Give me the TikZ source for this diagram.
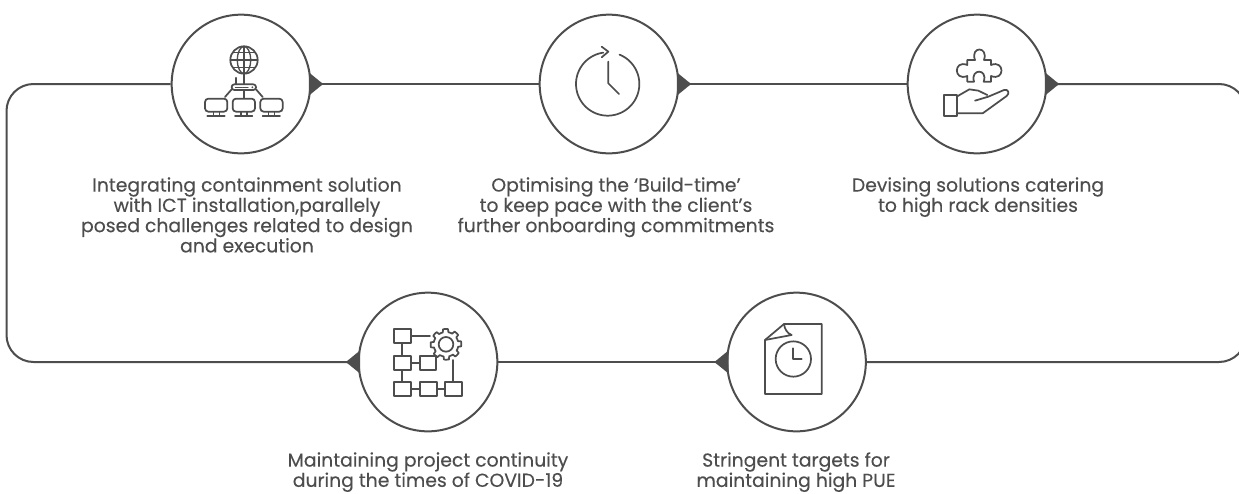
\documentclass[tikz,border=0pt]{standalone}
\usepackage{fontspec}
\setmainfont{Poppins}
\definecolor{ink}{HTML}{4D4D4D}
\tikzset{
  x=0.75pt,y=-0.75pt,
  hub/.style={circle,draw=ink,line width=1.5pt,minimum size=104pt,inner sep=0pt,fill=white},
  wire/.style={draw=ink,line width=1.5pt},
  loopwire/.style={wire,rounded corners=20.25pt},
  tip/.style={fill=ink,draw=none},
  glyph/.style={draw=ink,line width=1.3pt,line cap=round,line join=round},
  caption/.style={align=center,text=ink,font=\fontsize{14.1}{15.2}\selectfont\addfontfeature{FakeBold=0.2},inner sep=0pt,anchor=north},
  zoomed/.style={x=0.25pt,y=-0.25pt}
}
\newcommand{\tipright}[1]{\fill[tip] ([shift={(-2.5,-11.5)}]#1) .. controls ([shift={(3,-7.5)}]#1) and ([shift={(7,-3.5)}]#1) .. ([shift={(12,0)}]#1) .. controls ([shift={(7,3.5)}]#1) and ([shift={(3,7.5)}]#1) .. ([shift={(-2.5,11.5)}]#1) -- cycle;}
\newcommand{\tipleft}[1]{\fill[tip] ([shift={(2.5,-11.5)}]#1) .. controls ([shift={(-3,-7.5)}]#1) and ([shift={(-7,-3.5)}]#1) .. ([shift={(-12,0)}]#1) .. controls ([shift={(-7,3.5)}]#1) and ([shift={(-3,7.5)}]#1) .. ([shift={(2.5,11.5)}]#1) -- cycle;}
\begin{document}
\begin{tikzpicture}
\path[use as bounding box,clip] (0,0) rectangle (1239,493);
\fill[white] (0,0) rectangle (1239,493);
\node[hub] (c1) at (241,84) {};
\node[hub] (c2) at (609,84) {};
\node[hub] (c3) at (977,84) {};
\node[hub] (c4) at (428,362) {};
\node[hub] (c5) at (796.5,362) {};
\coordinate (tl) at (6.5,84);
\coordinate (bl) at (6.5,362);
\coordinate (tr) at (1246,84);
\coordinate (br) at (1246,362);
\draw[loopwire] (c1.west) -- (tl) -- (bl) -- (c4.west);
\draw[loopwire] (c3.east) -- (tr) -- (br) -- (c5.east);
\draw[wire] (c1.east) -- (c2.west);
\draw[wire] (c2.east) -- (c3.west);
\draw[wire] (c4.east) -- (c5.west);
\tipright{c1.east}\tipright{c2.east}\tipright{c3.east}
\tipleft{c4.west}\tipleft{c5.west}
% icon 1
\begin{scope}[shift={(150,0)},zoomed]
\draw[glyph] (282,180) circle[radius=41];
\draw[glyph,line width=1pt] (282,180) ellipse[x radius=20,y radius=41];
\draw[glyph,line width=1pt] (282,139) -- (282,221) (241,180) -- (323,180) (248,158) -- (316,158) (248,202) -- (316,202);
\draw[glyph] (282,221) -- (282,252);
\draw[glyph,rounded corners=2pt] (245,253) rectangle (318,270);
\draw[glyph,line width=0.8pt,dash pattern=on 1.2pt off .6pt] (256,262) -- (294,262);
\fill[ink] (307,262) circle[radius=3];
\draw[glyph,line width=1.8pt] (258,234) -- (258,252);
\draw[glyph] (245,268) -- (225,291) (282,270) -- (282,295) (318,268) -- (338,291);
\foreach \m in {0,83,166}{
 \begin{scope}[shift={(\m,0)}]
 \draw[glyph,rounded corners=2.5pt] (165,296) rectangle (232,335);
 \draw[glyph,line width=1pt] (190,335) -- (190,347) (208,335) -- (208,347);
 \draw[glyph] (172,347) -- (224,347);
 \end{scope}}
\end{scope}
% icon 2
\begin{scope}[shift={(520,0)},zoomed]
\draw[glyph] plot[domain=-68:262,samples=90] ({263+95*cos(\x)},{252+95*sin(\x)});
\draw[glyph] (245,140) -- (265,155) -- (245,172);
\draw[glyph] (265,185) -- (265,250) -- (297,282);
\end{scope}
% icon 3
\begin{scope}[shift={(890,0)},zoomed]
\draw[glyph] (232,180) -- (255,180) .. controls (240,138) and (296,138) .. (282,180) -- (303,180) -- (303,195) .. controls (345,178) and (345,245) .. (303,228) -- (303,245) -- (281,245) .. controls (295,205) and (240,205) .. (252,245) -- (232,245) -- (232,228) .. controls (190,245) and (190,178) .. (232,195) -- cycle;
\draw[glyph] (162,285) rectangle (200,347);
\draw[glyph] (200,290) -- (238,268) -- (265,272) -- (292,285);
\draw[glyph] (255,302) -- (295,290) -- (342,270) .. controls (355,266) and (360,280) .. (350,288) -- (278,340) -- (200,340);
\end{scope}
% icon 4
\begin{scope}[shift={(340,290)},zoomed]
\draw[glyph] (162,117) rectangle (212,160) (162,197) rectangle (212,240) (240,197) rectangle (288,240) (162,275) rectangle (212,318) (240,275) rectangle (290,318) (316,275) rectangle (366,318);
\draw[glyph] (212,138) -- (270,138) (187,160) -- (187,197) (187,240) -- (187,275) (212,218) -- (240,218) (212,297) -- (240,297) (290,297) -- (316,297) (340,210) -- (340,275);
\draw[glyph] plot[domain=0:360,samples=97] ({318+(cos(8*\x+22)>0?46:37)*cos(\x)},{163+(cos(8*\x+22)>0?46:37)*sin(\x)}) -- cycle;
\draw[glyph] (318,163) circle[radius=22];
\end{scope}
% icon 5
\begin{scope}[shift={(710,290)},zoomed]
\draw[glyph] (165,150) -- (165,312) -- (335,312) -- (335,102) -- (222,102) -- cycle;
\draw[glyph] (222,102) .. controls (224,118) and (232,130) .. (245,135) -- (165,150);
\draw[glyph] (250,207) circle[radius=53];
\draw[glyph] (250,175) -- (250,207) -- (275,207);
\end{scope}
\node[caption] (t1) at (247,177) {Integrating containment solution\\with ICT installation,parallely\\posed challenges related to design\\and execution};
\node[caption] (t2) at (616,177) {Optimising the ‘Build-time’\\to keep pace with the client’s\\further onboarding commitments};
\node[caption] (t3) at (978,177) {Devising solutions catering\\to high rack densities};
\node[caption] (t4) at (428,452) {Maintaining project continuity\\during the times of COVID-19};
\node[caption] (t5) at (796,452) {Stringent targets for\\maintaining high PUE};
\end{tikzpicture}
\end{document}
